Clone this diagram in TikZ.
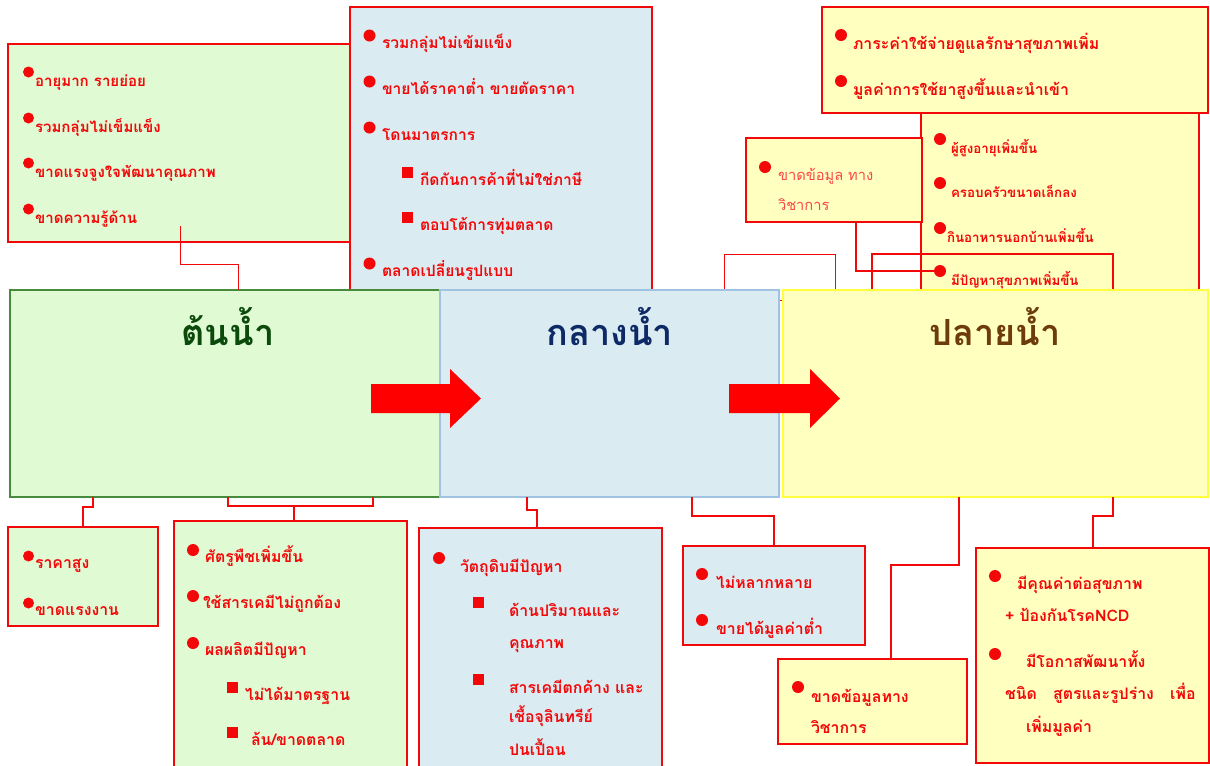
\documentclass[tikz,border=0pt]{standalone}
\usepackage{fontspec}
\usetikzlibrary{fit}
\newfontfamily\thaifont[Script=Thai]{Loma}
\definecolor{itemred}{RGB}{242,8,8}
\definecolor{softred}{RGB}{250,72,72}
\definecolor{greenfill}{RGB}{224,250,212}
\definecolor{bluefill}{RGB}{218,235,242}
\definecolor{yellowfill}{RGB}{255,255,192}
\definecolor{upline}{RGB}{70,140,60}
\definecolor{midline}{RGB}{160,195,225}
\definecolor{downline}{RGB}{255,255,60}
\definecolor{upgreen}{RGB}{11,74,11}
\definecolor{midnavy}{RGB}{14,42,102}
\definecolor{downbrown}{RGB}{110,59,10}
\begin{document}
\begin{tikzpicture}[x=0.75pt, y=-0.75pt,
  every node/.style={inner sep=0pt, outer sep=0pt},
  itm/.style={anchor=base west, text=itemred, font=\thaifont\bfseries\fontsize{11.9}{13}\selectfont},
  farmitm/.style={itm, font=\thaifont\bfseries\fontsize{11.3}{13}\selectfont},
  marketitm/.style={itm, font=\thaifont\bfseries\fontsize{11.7}{13}\selectfont},
  smallitm/.style={itm, font=\thaifont\bfseries\fontsize{10}{12}\selectfont},
  tightitm/.style={itm, text height=8pt, text depth=2pt},
  panel/.style={draw=itemred, line width=1.5pt},
  stage/.style={line width=0.8pt},
  title/.style={anchor=base, font=\thaifont\bfseries\fontsize{27}{30}\selectfont},
  link/.style={draw=itemred, line width=1.5pt},
  thinlink/.style={draw=itemred, line width=0.75pt}
]
\useasboundingbox (0,0) rectangle (1210,765);
\clip (0,0) rectangle (1210,765);

% upper panels
\node[panel, fill=bluefill, fit={(350,7) (652,300)}] (marketbox) {};
\node[panel, fill=greenfill, fit={(8,44) (350,242)}] (farmbox) {};
\node[panel, fill=yellowfill, fit={(921,113) (1199,300)}] (healthbox) {};
\node[panel, fill=yellowfill, fit={(822,7) (1208,113)}] (costbox) {};
\node[panel, fill=yellowfill, line width=2pt, fit={(746,138) (922,222)}] (gapbox) {};
\node[thinlink, fit={(724,254) (835,300)}] (emptyframe) {};
\node[link, fit={(872,254) (1113,300)}] (healthframe) {};

% upper items
\foreach \b/\t [count=\i] in {86/อายุมาก รายย่อย, 132/รวมกลุ่มไม่เข็มแข็ง, 177/ขาดแรงจูงใจพัฒนาคุณภาพ, 223/ขาดความรู้ด้าน}{
  \fill[itemred] (28.5,\b-14) circle (5.5);
  \node[farmitm] (farm\i) at (35,\b) {\t};
}
\foreach \b/\t [count=\i] in {48/รวมกลุ่มไม่เข้มแข็ง, 94/ขายได้ราคาต่ำ ขายตัดราคา, 140/โดนมาตรการ, 276/ตลาดเปลี่ยนรูปแบบ}{
  \fill[itemred] (369.5,\b-12.5) circle (6);
  \node[marketitm] (market\i) at (382,\b) {\t};
}
\foreach \b/\t [count=\i] in {185/กีดกันการค้าที่ไม่ใช่ภาษี, 230/ตอบโต้การทุ่มตลาด}{
  \fill[itemred] (402,\b-18) rectangle ++(11,11);
  \node[marketitm] (measure\i) at (420,\b) {\t};
}
\foreach \b/\t [count=\i] in {49/ภาระค่าใช้จ่ายดูแลรักษาสุขภาพเพิ่ม, 95/มูลค่าการใช้ยาสูงขึ้นและนำเข้า}{
  \fill[itemred] (841,\b-14) circle (6);
  \node[itm] (cost\i) at (853,\b) {\t};
}
\foreach \x/\b/\t [count=\i] in {951/153/ผู้สูงอายุเพิ่มขึ้น, 951/197/ครอบครัวขนาดเล็กลง, 947/242/กินอาหารนอกบ้านเพิ่มขึ้น, 951/285/มีปัญหาสุขภาพเพิ่มขึ้น}{
  \fill[itemred] (940,\b-14) circle (6);
  \node[smallitm] (health\i) at (\x,\b) {\t};
}
\coordinate (dhealth) at (940,271);
\fill[itemred] (765,167) circle (6);
\node[itm, text=softred, font=\thaifont\fontsize{11}{13}\selectfont] (gap1) at (778,180) {ขาดข้อมูล ทาง};
\node[itm, text=softred, font=\thaifont\fontsize{11}{13}\selectfont] (gap2) at (778,210) {วิชาการ};

% three stages
\node[stage, draw=upline, fill=greenfill, fit={(10,290) (440,497)}] (upbox) {};
\node[stage, draw=midline, fill=bluefill, fit={(440,290) (779,497)}] (midbox) {};
\node[stage, draw=downline, fill=yellowfill, fit={(783,290) (1208,497)}] (downbox) {};
\node[title, text=upgreen] (uptitle) at (228,345) {ต้นน้ำ};
\node[title, text=midnavy] (midtitle) at (610,345) {กลางน้ำ};
\node[title, text=downbrown] (downtitle) at (995,345) {ปลายน้ำ};
\fill[red] (371,384) -- (450,384) -- (450,369) -- (481,398.5) -- (450,428) -- (450,413) -- (371,413) -- cycle;
\fill[red] (729,384) -- (810,384) -- (810,369) -- (840,398.5) -- (810,428) -- (810,413) -- (729,413) -- cycle;

% lower panels
\node[panel, fill=greenfill, fit={(8,527) (158,626)}] (pricebox) {};
\node[panel, fill=greenfill, fit={(174,521) (407,780)}] (pestbox) {};
\node[panel, fill=bluefill, fit={(419,528) (662,780)}] (rawbox) {};
\node[panel, fill=bluefill, fit={(683,546) (865,645)}] (valuebox) {};
\node[panel, fill=yellowfill, fit={(778,659) (967,744)}] (databox) {};
\node[panel, fill=yellowfill, fit={(976,548) (1209,763)}] (benefitbox) {};

% connectors
\coordinate (farmfoot) at (180,226);
\draw[thinlink] (farmfoot) -- ++(0,38) -| (upbox.north -| 238,0);
\draw[link] (gapbox.south -| 856,0) |- (dhealth);
\draw[link] (upbox.south -| 93,0) -- ++(0,10) -| (pricebox.north -| 83,0);
\draw[link] (upbox.south -| 228,0) -- ++(0,9) -| (upbox.south -| 373,0);
\draw[link] (upbox.south -| 294,0) ++(0,9) -- (pestbox.north -| 294,0);
\draw[link] (midbox.south -| 527,0) -- ++(0,13) -| (rawbox.north -| 537,0);
\draw[link] (midbox.south -| 692,0) -- ++(0,19) -| (valuebox.north -| 774,0);
\draw[link] (downbox.south -| 959,0) -- ++(0,68) -| (databox.north -| 891,0);
\draw[link] (downbox.south -| 1113,0) -- ++(0,19) -| (benefitbox.north -| 1093,0);

% lower items
\foreach \b/\t [count=\i] in {568/ราคาสูง, 615/ขาดแรงงาน}{
  \fill[itemred] (28.5,\b-12) circle (5.5);
  \node[itm] (price\i) at (35,\b) {\t};
}
\foreach \x/\b/\t [count=\i] in {205/562/ศัตรูพืชเพิ่มขึ้น, 203/608/ใช้สารเคมีไม่ถูกต้อง, 205/655/ผลผลิตมีปัญหา}{
  \fill[itemred] (193,\b-12) circle (6);
  \node[itm] (pest\i) at (\x,\b) {\t};
}
\foreach \x/\b/\t [count=\i] in {245/700/ไม่ได้มาตรฐาน, 251/745/{ล้น/ขาดตลาด}}{
  \fill[itemred] (226.5,\b-18.5) rectangle ++(11,11);
  \node[itm] (yield\i) at (\x,\b) {\t};
}
\fill[itemred] (439,558) circle (6);
\node[itm] (raw1) at (460,572) {วัตถุดิบมีปัญหา};
\fill[itemred] (472.5,596.5) rectangle ++(11,11);
\fill[itemred] (472.5,673.5) rectangle ++(11,11);
\foreach \b/\t [count=\i] in {616/ด้านปริมาณและ, 648/คุณภาพ, 693/สารเคมีตกค้าง และ, 722/เชื้อจุลินทรีย์, 755/ปนเปื้อน}{
  \node[tightitm] (rawline\i) at (509,\b) {\t};
}
\foreach \b/\t [count=\i] in {588/ไม่หลากหลาย, 634/ขายได้มูลค่าต่ำ}{
  \fill[itemred] (702,\b-14) circle (6);
  \node[itm] (value\i) at (716,\b) {\t};
}
\fill[itemred] (798,687) circle (6);
\node[itm] (data1) at (811,702) {ขาดข้อมูลทาง};
\node[itm] (data2) at (811,733) {วิชาการ};
\fill[itemred] (995,576) circle (6);
\fill[itemred] (995,654) circle (6);
\node[itm] (benefit1) at (1017,589) {มีคุณค่าต่อสุขภาพ};
\node[itm] (benefit2) at (1005,621) {+ ป้องกันโรคNCD};
\node[itm] (benefit3) at (1026,667) {มีโอกาสพัฒนาทั้ง};
\node[itm] (benefit4) at (1005,699) {\makebox[143pt][s]{ชนิด\hfill สูตรและรูปร่าง\hfill เพื่อ}};
\node[itm] (benefit5) at (1026,732) {เพิ่มมูลค่า};
\end{tikzpicture}
\end{document}
